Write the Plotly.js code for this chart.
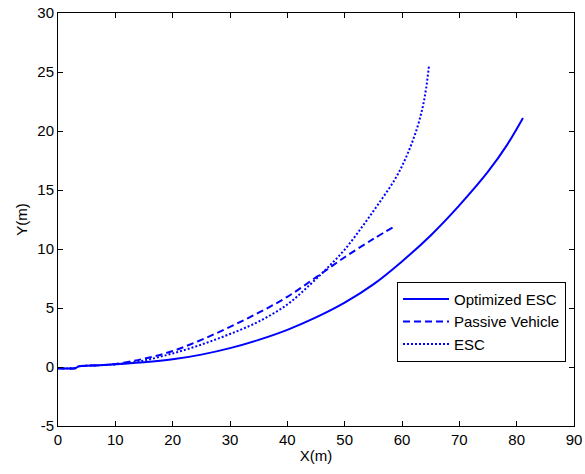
<!DOCTYPE html>
<html>
<head>
<meta charset="utf-8">
<script src="https://cdn.plot.ly/plotly-3.0.1.min.js"></script>
<style>html,body{margin:0;padding:0;background:#fff;}#chart{width:585px;height:474px;}</style>
</head>
<body>
<div id="chart"></div>
<script>
// Optimized ESC (solid)
var optX = [0, 3.0, 3.2, 3.6, 7.3, 10, 15, 20, 25, 30, 35, 40, 45, 50, 55, 60, 65, 70, 75, 78.3, 81.1];
var optY = [-0.1, -0.1, -0.05, 0.05, 0.15, 0.24, 0.4, 0.65, 1.05, 1.6, 2.3, 3.15, 4.2, 5.45, 7.0, 8.95, 11.15, 13.7, 16.55, 18.8, 21.1];
// Passive Vehicle (dashed)
var pasX = [0, 3.0, 3.2, 3.6, 7.3, 10, 15, 20, 25, 30, 35, 40, 45, 50, 55, 58.8];
var pasY = [-0.1, -0.1, -0.05, 0.05, 0.15, 0.26, 0.7, 1.35, 2.3, 3.4, 4.6, 5.95, 7.6, 9.3, 10.85, 11.95];
// ESC (dotted)
var escX = [0, 3.0, 3.2, 3.6, 7.3, 10, 15, 20, 25, 30, 35, 40, 44, 47, 50, 53, 56, 59, 61, 62.6, 63.6, 64.2, 64.7];
var escY = [-0.1, -0.1, -0.05, 0.05, 0.15, 0.22, 0.55, 1.15, 1.9, 2.8, 3.85, 5.3, 7.0, 8.4, 9.95, 11.85, 13.9, 16.1, 18.1, 20.2, 22.0, 23.6, 25.5];

var names = ['Optimized ESC', 'Passive Vehicle', 'ESC'];
var xTicks = [0, 10, 20, 30, 40, 50, 60, 70, 80, 90];
var yTicks = [-5, 0, 5, 10, 15, 20, 25, 30];

var blue = '#0000ff';
var traces = [
  {x: optX, y: optY, name: names[0], mode: 'lines', line: {color: blue, width: 2, dash: 'solid', shape: 'spline', smoothing: 1}},
  {x: pasX, y: pasY, name: names[1], mode: 'lines', line: {color: blue, width: 2, dash: '7px,4px', shape: 'spline', smoothing: 1}},
  {x: escX, y: escY, name: names[2], mode: 'lines', line: {color: blue, width: 2, dash: '2px,2px', shape: 'spline', smoothing: 1}}
];

var fnt = {family: 'Liberation Sans, Arial, sans-serif', size: 15, color: '#000'};
var axisCommon = {
  showline: true, linecolor: '#000', linewidth: 1, mirror: 'ticks',
  ticks: 'inside', ticklen: 5, tickcolor: '#000', tickwidth: 1,
  showgrid: false, zeroline: false, tickfont: fnt
};

var layout = {
  width: 585, height: 474,
  margin: {l: 58, r: 11, t: 13, b: 48},
  paper_bgcolor: '#fff', plot_bgcolor: '#fff',
  font: fnt,
  xaxis: Object.assign({}, axisCommon, {
    range: [0, 90], tickvals: xTicks, ticktext: xTicks.map(String),
    title: {text: 'X(m)', font: fnt, standoff: 3}
  }),
  yaxis: Object.assign({}, axisCommon, {
    range: [-5, 30], tickvals: yTicks, ticktext: yTicks.map(String),
    title: {text: 'Y(m)', font: fnt, standoff: 6}
  }),
  showlegend: true,
  legend: {
    x: 0.657, y: 0.349, xanchor: 'left', yanchor: 'top',
    bgcolor: '#fff', bordercolor: '#000', borderwidth: 1,
    font: fnt, itemwidth: 46
  }
};

Plotly.newPlot('chart', traces, layout, {displayModeBar: false, staticPlot: true});
</script>
</body>
</html>
